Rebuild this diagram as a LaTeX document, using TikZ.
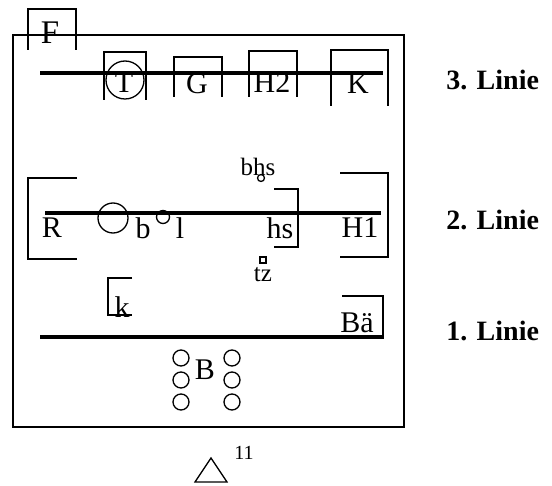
\documentclass[tikz,border=0pt]{standalone}
\usepackage{fontspec}
\setmainfont{Liberation Serif}
\usetikzlibrary{positioning}

\tikzset{
  thin line/.style={line width=0.65pt},
  rail/.style={line width=2.3pt},
  lab/.style={inner sep=0.5pt,font=\fontsize{15}{15}\selectfont},
  small lab/.style={inner sep=0.5pt,font=\fontsize{12.5}{12.5}\selectfont},
  line lab/.style={inner sep=0.5pt,font=\fontsize{14}{14}\selectfont\bfseries,anchor=west},
}

\begin{document}
\begin{tikzpicture}[x=0.5pt,y=0.5pt,yscale=-1,xscale=1]
\useasboundingbox (0,0) rectangle (552,486);

%Shape: Rectangle (frame)
\draw [thin line] (13,35) rectangle (404,427);
%Shape: F box, open at the bottom
\draw [thin line] (28,50) -- (28,9) -- (76,9) -- (76,50);

%Straight Lines: 3. Linie
\draw [rail] (40,73) -- (383,73);
\draw [thin line] (104,100) -- (104,52) -- (146,52) -- (146,100);
\draw [thin line] (125,80) circle [radius=19];
\draw [thin line] (174,97) -- (174,57) -- (222,57) -- (222,97);
\draw [thin line] (249,97) -- (249,51) -- (297,51) -- (297,97);
\draw [thin line] (331,106) -- (331,50) -- (388,50) -- (388,106);

%Straight Lines: 2. Linie
\draw [rail] (45,213) -- (381,213);
\draw [thin line] (77,178) -- (28,178) -- (28,259) -- (77,259);
\draw [thin line] (113,218) circle [radius=15];
\draw [thin line] (163,217) circle [radius=6.5];
\draw [thin line] (261,178) circle [radius=3.5];
\draw [thin line] (274,189) -- (298,189) -- (298,247) -- (274,247);
\draw [thin line] (340,173) -- (388,173) -- (388,257) -- (340,257);
\draw [thin line] (260,257) rectangle (266,263);

%Straight Lines: 1. Linie
\draw [rail] (40,337) -- (384,337);
\draw [thin line] (132,278) -- (108,278) -- (108,315) -- (132,315);
\draw [thin line] (342,296) -- (383,296) -- (383,337);
\foreach \yy in {358,380,402} {
  \draw [thin line] (181,\yy) circle [radius=8];
  \draw [thin line] (232,\yy) circle [radius=8];
}

%Shape: Triangle
\draw [thin line] (195,482) -- (227,482) -- (211,458) -- cycle;

% Text Node
\node [lab, font=\fontsize{16.5}{16.5}\selectfont] (f) at (50,33) {F};
\node [lab] (t) at (124,83) {T};
\node [lab] (g) at (197,84) {G};
\node [lab] (h2) at (272,83) {H2};
\node [lab] (k3) at (358,84) {K};
% Text Node
\node [lab] (r) at (52,228) {R};
\node [lab] (b) at (143,228) {b};
\node [lab] (l) at (180,228) {l};
\node [lab] (hs) at (280,228) {hs};
\node [lab] (h1) at (360,228) {H1};
\node [small lab] (bhs) at (258,167) {bhs};
\node [small lab] (tz) at (263,275) {tz};
% Text Node
\node [lab] (k1) at (122,307) {k};
\node [lab] (bae) at (357,323) {Bä};
\node [lab] (bb) at (205,370) {B};
\node [small lab, font=\fontsize{10}{10}\selectfont] (nr) at (244,453) {11};
% Text Node
\node [line lab] (l3) at (445,80) {3. Linie};
\node [line lab] (l2) at (445,220) {2. Linie};
\node [line lab] (l1) at (445,331) {1. Linie};

\end{tikzpicture}
\end{document}
